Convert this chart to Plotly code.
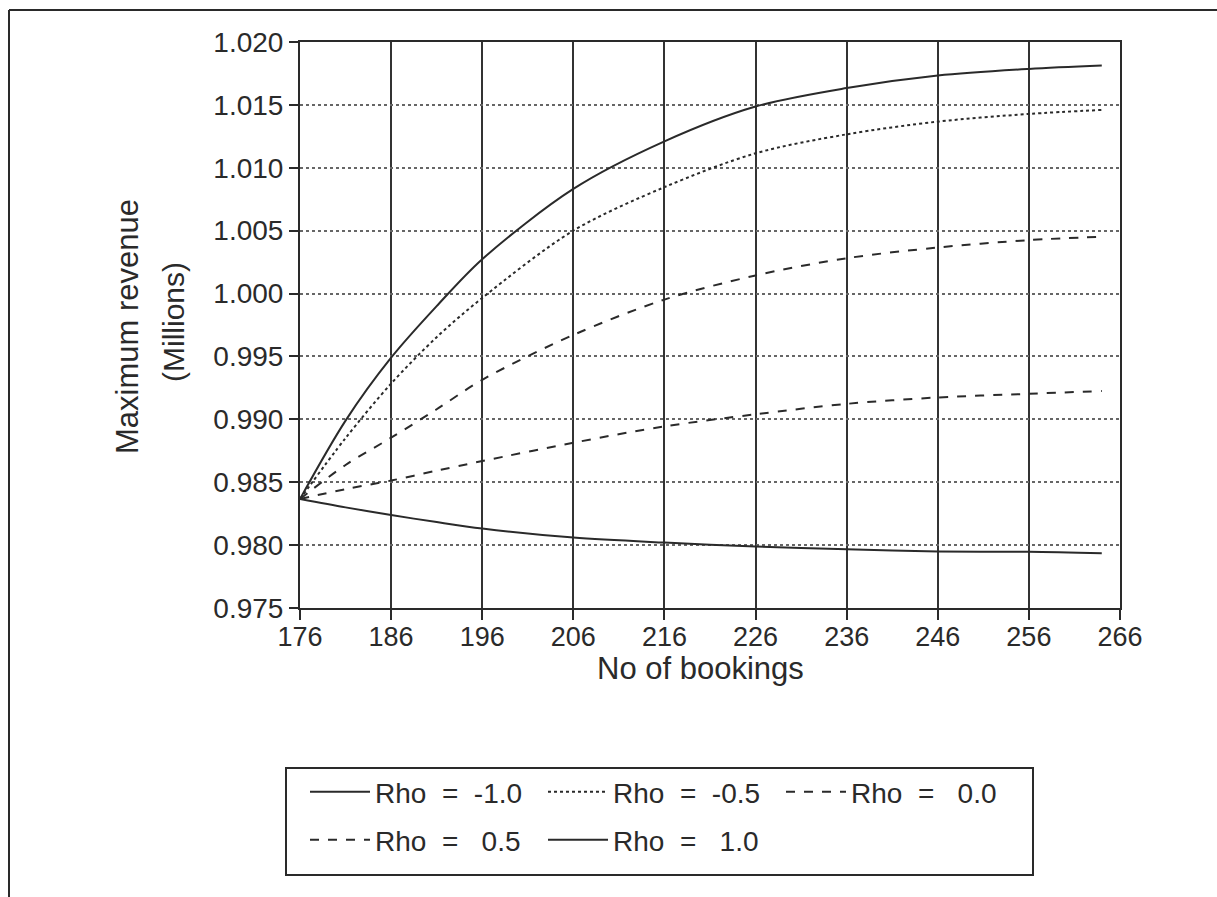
import plotly.graph_objects as go

# ---- data ----
bookings = [176, 181, 186, 191, 196, 206, 216, 226, 236, 246, 256, 264]
rho_m10 = [0.98367, 0.98990, 0.99490, 0.99900, 1.00273, 1.00832, 1.01210, 1.01487, 1.01634, 1.01733, 1.01786, 1.01813]
rho_m05 = [0.98367, 0.98851, 0.99284, 0.99653, 0.99965, 1.00500, 1.00846, 1.01115, 1.01266, 1.01367, 1.01428, 1.01460]
rho_00 = [0.98367, 0.98637, 0.98854, 0.99080, 0.99314, 0.99671, 0.99952, 1.00144, 1.00281, 1.00366, 1.00425, 1.00452]
rho_p05 = [0.98367, 0.98445, 0.98513, 0.98592, 0.98668, 0.98814, 0.98944, 0.99040, 0.99123, 0.99174, 0.99203, 0.99225]
rho_p10 = [0.98367, 0.98300, 0.98239, 0.98183, 0.98132, 0.98060, 0.98020, 0.97989, 0.97968, 0.97950, 0.97947, 0.97936]
series_names = ["Rho  =  -1.0", "Rho  =  -0.5", "Rho  =   0.0", "Rho  =   0.5", "Rho  =   1.0"]
x_ticks = [176, 186, 196, 206, 216, 226, 236, 246, 256, 266]
y_ticks = [0.975, 0.980, 0.985, 0.990, 0.995, 1.000, 1.005, 1.010, 1.015, 1.020]

# ---- layout geometry (pixels) ----
W, H = 1217, 897
L, R, T, B = 300, 1120, 42, 608


def px2x(px):
    return (px - L) / (R - L)


def px2y(py):
    return (B - py) / (B - T)


INK = "#2a2a2a"
FONT = "Liberation Sans, Arial, sans-serif"

fig = go.Figure()
styles = [
    (rho_m10, "solid", "legend"),
    (rho_m05, "dot", "legend"),
    (rho_00, "dash", "legend"),
    (rho_p05, "dash", "legend2"),
    (rho_p10, "solid", "legend2"),
]
for (vals, dash, lg), name in zip(styles, series_names):
    fig.add_trace(go.Scatter(
        x=bookings, y=vals, mode="lines", name=name,
        line=dict(color=INK, width=2, dash=dash, shape="spline", smoothing=0.9),
        legend=lg,
    ))

legend_common = dict(
    orientation="h", xanchor="left", yanchor="middle",
    entrywidth=163, entrywidthmode="pixels", itemwidth=60,
    bgcolor="rgba(0,0,0,0)",
    borderwidth=0, font=dict(size=28, family=FONT, color=INK),
    traceorder="normal",
)

fig.update_layout(
    width=W, height=H,
    margin=dict(l=L, r=W - R, t=T, b=H - B, pad=0),
    paper_bgcolor="white", plot_bgcolor="white",
    font=dict(family=FONT, size=27, color=INK),
    showlegend=True,
    legend=dict(x=px2x(305), y=px2y(792), **legend_common),
    legend2=dict(x=px2x(305), y=px2y(840), **legend_common),
    xaxis=dict(
        range=[176, 266], tickvals=x_ticks, ticktext=[str(v) for v in x_ticks],
        showgrid=True, gridcolor="#333333", gridwidth=2,
        showline=True, linecolor=INK, linewidth=2, mirror=True,
        ticks="outside", ticklen=10, tickwidth=2, tickcolor=INK,
        ticklabelstandoff=-6,
        tickfont=dict(size=27, family=FONT, color=INK), zeroline=False,
    ),
    yaxis=dict(
        range=[0.975, 1.020], tickvals=y_ticks, ticktext=[f"{v:.3f}" for v in y_ticks],
        showgrid=True, gridcolor="#666666", gridwidth=2, griddash="dot",
        showline=True, linecolor=INK, linewidth=2, mirror=True,
        ticks="outside", ticklen=9, tickwidth=2, tickcolor=INK,
        tickfont=dict(size=28, family=FONT, color=INK), zeroline=False,
    ),
)

# axis titles
fig.add_annotation(x=px2x(700), y=px2y(668), xref="paper", yref="paper",
                   xanchor="center", yanchor="middle",
                   text="No of bookings", showarrow=False,
                   font=dict(size=31, family=FONT, color=INK))
fig.add_annotation(x=px2x(127), y=px2y(327), xref="paper", yref="paper",
                   xanchor="center", yanchor="middle",
                   text="Maximum revenue", textangle=-90, showarrow=False,
                   font=dict(size=31, family=FONT, color=INK))
fig.add_annotation(x=px2x(173), y=px2y(322), xref="paper", yref="paper",
                   xanchor="center", yanchor="middle",
                   text="(Millions)", textangle=-90, showarrow=False,
                   font=dict(size=30, family=FONT, color=INK))

# legend box
fig.add_shape(type="rect", xref="paper", yref="paper",
              x0=px2x(286), x1=px2x(1033), y0=px2y(875), y1=px2y(768),
              line=dict(color=INK, width=2), fillcolor="rgba(0,0,0,0)")
# page frame (left and top edges)
fig.add_shape(type="line", xref="paper", yref="paper",
              x0=px2x(9), x1=px2x(9), y0=px2y(10), y1=px2y(897),
              line=dict(color=INK, width=2))
fig.add_shape(type="line", xref="paper", yref="paper",
              x0=px2x(9), x1=px2x(1217), y0=px2y(10), y1=px2y(10),
              line=dict(color=INK, width=2))

fig.write_html("out.html")
